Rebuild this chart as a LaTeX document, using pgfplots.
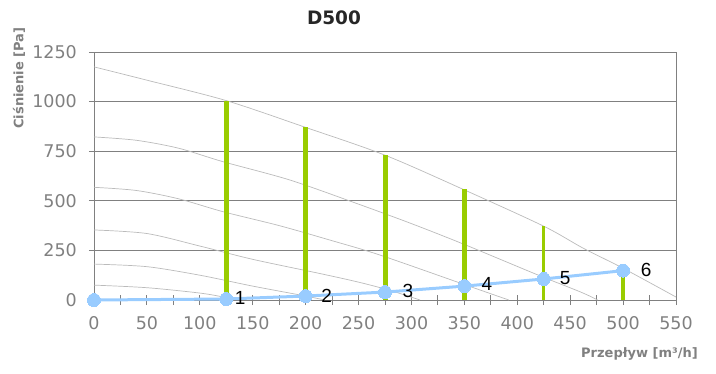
\documentclass[border=0pt]{standalone}
\usepackage{pgfplots}
\pgfplotsset{compat=1.18}
\usepackage{fontspec}
\setmainfont{DejaVu Sans}
\newfontfamily\arial{Liberation Sans}
\definecolor{axgray}{HTML}{808080}
\definecolor{curvegray}{HTML}{BBBBBB}
\definecolor{bargreen}{HTML}{99CC00}
\definecolor{lineblue}{HTML}{99CCFF}
\definecolor{titlecol}{HTML}{262626}
\begin{document}
\begin{tikzpicture}
\path[use as bounding box] (-94pt,-73pt) rectangle (622pt,300pt);
\begin{axis}[
  at={(0pt,0pt)}, anchor=south west,
  scale only axis, width=582pt, height=248pt,
  xmin=0, xmax=550, ymin=0, ymax=1250,
  xtick={0,50,...,550}, minor xtick={25,75,...,525},
  ytick={0,250,...,1250},
  xtick pos=bottom, ytick pos=left,
  ymajorgrids,
  grid style={axgray, line width=0.9pt},
  axis line style={axgray, line width=0.9pt},
  tick style={axgray, line width=0.9pt},
  tick align=center, major tick length=10pt, minor tick length=10pt,
  /pgf/number format/assume math mode=true,
  /pgf/number format/1000 sep={},
  tick label style={font=\fontsize{17.5}{17.5}\selectfont, text=axgray},
  yticklabel style={anchor=east, inner sep=0pt, xshift=-12pt},
  xticklabel style={anchor=north, inner sep=0pt, yshift=-11pt},
  clip=false,
]
% fan curves
\addplot[curvegray, line width=0.7pt, smooth] coordinates {(0,1175) (50,1108) (125,1005) (200,870) (275,730) (350,555) (425,372) (462,262) (500,160) (550,15)};
\addplot[curvegray, line width=0.7pt, smooth] coordinates {(0,822) (40,805) (80,765) (122,697) (185,605) (248,487) (300,385) (350,280) (420,125) (460,40) (476,0)};
\addplot[curvegray, line width=0.7pt, smooth] coordinates {(0,568) (40,552) (80,510) (122,445) (175,375) (223,302) (270,227) (350,78) (392,0)};
\addplot[curvegray, line width=0.7pt, smooth] coordinates {(0,353) (50,335) (100,272) (150,205) (213,134) (250,90) (280,48) (308,0)};
\addplot[curvegray, line width=0.7pt, smooth] coordinates {(0,181) (50,168) (100,125) (150,70) (198,22) (218,0)};
\addplot[curvegray, line width=0.7pt, smooth] coordinates {(0,75) (50,62) (100,35) (122,15) (132,0)};
% green bars
\addplot[bargreen, line width=5pt] coordinates {(125,0) (125,1005)};
\addplot[bargreen, line width=5pt] coordinates {(200,0) (200,872)};
\addplot[bargreen, line width=5pt] coordinates {(275,0) (275,730)};
\addplot[bargreen, line width=5pt] coordinates {(350,0) (350,558)};
\addplot[bargreen, line width=3.2pt] coordinates {(425,0) (425,372)};
\addplot[bargreen, line width=4.6pt] coordinates {(500,0) (500,160)};
% blue line
\addplot[lineblue, line width=3pt, mark=*, mark size=6.5pt,
  mark options={fill=lineblue, draw=lineblue, line width=0pt}]
  coordinates {(0,0) (125,5) (200,20) (275,40) (350,70) (425,106) (500,148)};
\begin{scope}[every node/.style={font=\arial\fontsize{19}{19}\selectfont, text=black, inner sep=0pt}]
\node at (axis cs:125,5) [xshift=14pt, yshift=1pt] {1};
\node at (axis cs:200,20) [xshift=21pt] {2};
\node at (axis cs:275,40) [xshift=23pt, yshift=1.5pt] {3};
\node at (axis cs:350,70) [xshift=22.5pt, yshift=2pt] {4};
\node at (axis cs:425,106) [xshift=21.5pt, yshift=1pt] {5};
\node at (axis cs:500,148) [xshift=23pt, yshift=1pt] {6};
\end{scope}
\end{axis}
\node[font=\bfseries\fontsize{18.5}{18.5}\selectfont, text=titlecol, inner sep=0pt] at (240pt,282pt) {D500};
\node[font=\bfseries\fontsize{13}{13}\selectfont, text=axgray, rotate=90, inner sep=0pt] at (-75pt,222pt) {Ciśnienie [Pa]};
\node[font=\bfseries\fontsize{13}{13}\selectfont, text=axgray, anchor=east, inner sep=0pt] at (604pt,-54pt) {Przepływ [m³/h]};
\end{tikzpicture}
\end{document}
